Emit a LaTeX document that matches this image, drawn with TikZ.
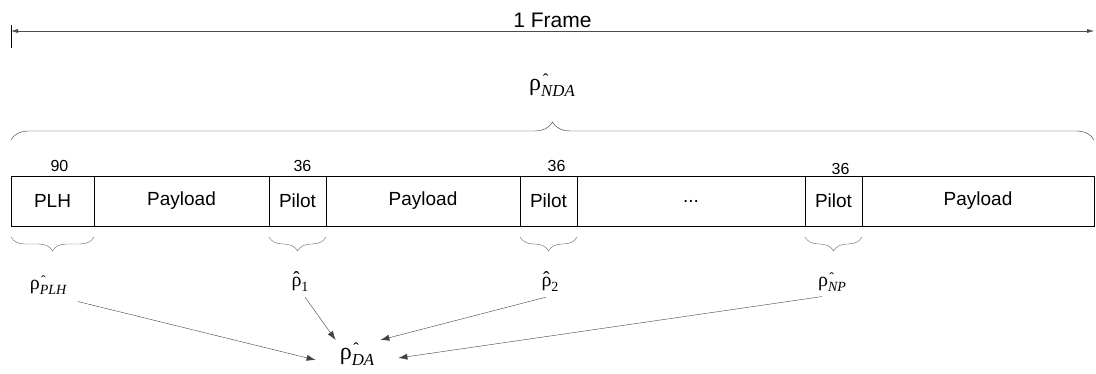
\documentclass[tikz,border=0pt]{standalone}
\usepackage{fontspec}
\setmainfont{Liberation Sans}
\newfontfamily\serif{Liberation Serif}
\usetikzlibrary{positioning,arrows.meta,decorations.pathreplacing}

\makeatletter
\newcommand{\subsz}{\fontsize{\the\dimexpr0.7\dimexpr\f@size pt\relax\relax}{1em}\selectfont}
\makeatother
% rho with the hat over the start of the index
\newcommand{\rhoest}[1]{{\serif ρ\rlap{\raisebox{0.2em}{\subsz\hspace{0.1em}ˆ}}\raisebox{-0.25em}{\subsz\itshape #1}}}
% rho with the hat over the letter
\newcommand{\rhoidx}[1]{{\serif\setbox0\hbox{ρ}\rlap{\hbox to\wd0{\hss\raisebox{0.05em}{ˆ}\hss}}\box0\raisebox{-0.25em}{\subsz #1}}}

\tikzset{
    cell/.style = {draw, minimum height=50pt, inner sep=0pt, outer sep=0pt, font=\fontsize{19}{21}\selectfont},
    num/.style = {font=\fontsize{16}{18}\selectfont, inner sep=1pt},
    est/.style = {font=\fontsize{20}{22}\selectfont, inner sep=1pt},
    bigest/.style = {font=\fontsize{24}{26}\selectfont, inner sep=1pt},
    bigbrace/.style = {decorate, decoration={brace, amplitude=18pt}, draw=black!80},
    smallbrace/.style = {decorate, decoration={brace, mirror, amplitude=14pt}, draw=black!60},
    feed/.style = {draw=black!75, -{Latex[length=9pt,width=6pt]}}
}

\begin{document}
\begin{tikzpicture}[x=1pt, y=1pt]
\useasboundingbox (0,0) rectangle (1096,374);

% frame length
\coordinate (fl) at (11,343);
\coordinate (fr) at (1094,343);
\draw (11,349) -- (11,326);
\draw[draw=black!70, {Latex[length=7pt,width=4pt]}-{Latex[length=7pt,width=4pt]}] (fl) -- (fr)
    node[midway, above=2pt, font=\fontsize{21}{23}\selectfont, inner sep=1pt] (frame) {1 Frame};

% fields of the frame
\node[cell, minimum width=83pt, anchor=west] (plh) at (11,173) {PLH};
\node[cell, minimum width=175pt, right=0pt of plh] (pay1) {Payload};
\node[cell, minimum width=57pt, right=0pt of pay1] (pil1) {Pilot};
\node[cell, minimum width=194pt, right=0pt of pil1] (pay2) {Payload};
\node[cell, minimum width=57pt, right=0pt of pay2] (pil2) {Pilot};
\node[cell, minimum width=228pt, right=0pt of pil2] (dots) {...};
\node[cell, minimum width=57pt, right=0pt of dots] (pil3) {Pilot};
\node[cell, minimum width=232pt, right=0pt of pil3] (pay3) {Payload};

% lengths
\node[num, above=3pt of plh, xshift=7pt] (n0) {90};
\node[num, above=3pt of pil1, xshift=5pt] (n1) {36};
\node[num, above=3pt of pil2, xshift=8pt] (n2) {36};
\node[num, above=0pt of pil3, xshift=7pt] (n3) {36};

% non data aided estimate
\draw[bigbrace] ([yshift=36pt]plh.north west) -- ([yshift=36pt]pay3.north east);
\node[bigest] (rnda) at (552,289) {\rhoest{NDA}};

% pilot estimates
\draw[smallbrace] ([yshift=-11pt]plh.south west) -- ([yshift=-11pt]plh.south east);
\draw[smallbrace] ([yshift=-11pt]pil1.south west) -- ([yshift=-11pt]pil1.south east);
\draw[smallbrace] ([yshift=-11pt]pil2.south west) -- ([yshift=-11pt]pil2.south east);
\draw[smallbrace] ([yshift=-11pt]pil3.south west) -- ([yshift=-11pt]pil3.south east);
\node[est] (rplh) at (48,89) {\rhoest{PLH}};
\node[est] (r1) at (300,92) {\rhoidx{1}};
\node[est] (r2) at (550,92) {\rhoidx{2}};
\node[est] (rnp) at (832,92) {\rhoest{NP}};

% data aided estimate
\node[bigest] (rda) at (357,20) {\rhoest{DA}};
\draw[feed] ([xshift=30pt,yshift=-6pt]rplh.south) -- ([xshift=-23pt,yshift=-6pt]rda.west);
\draw[feed] ([xshift=5pt,yshift=-4pt]r1.south) -- ([xshift=-3pt,yshift=14pt]rda.west);
\draw[feed] ([xshift=-4pt,yshift=-4pt]r2.south) -- ([xshift=5pt,yshift=14pt]rda.east);
\draw[feed] ([xshift=-10pt,yshift=-4pt]rnp.south) -- ([xshift=23pt,yshift=-4pt]rda.east);
\end{tikzpicture}
\end{document}
